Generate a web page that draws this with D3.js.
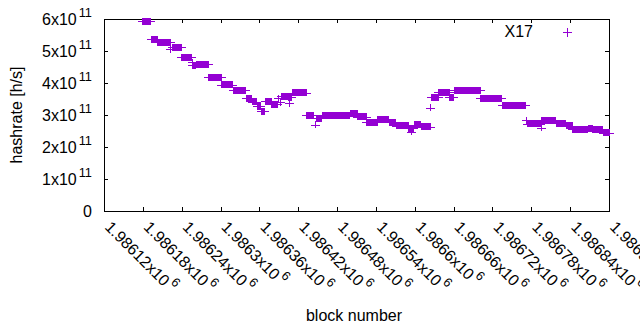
<!DOCTYPE html>
<html>
<head>
<meta charset="utf-8">
<script src="https://cdn.jsdelivr.net/npm/d3@7"></script>
<style>
  body { margin: 0; background: #fff; }
  svg { display: block; font-family: "Liberation Sans", Arial, sans-serif; }
</style>
</head>
<body>
<section></section>
<script>
// Tramos de bloques con el mismo hashrate (primer bloque, ultimo bloque, valor)
var runFirst = [1986179, 1986193, 1986203, 1986223, 1986226, 1986240, 1986256, 1986257, 1986263, 1986282,
    1986302, 1986320, 1986340, 1986349, 1986357, 1986363, 1986369, 1986379, 1986389, 1986392,
    1986394, 1986405, 1986406, 1986411, 1986433, 1986446, 1986448, 1986457, 1986500, 1986512,
    1986526, 1986543, 1986561, 1986572, 1986591, 1986595, 1986599, 1986610, 1986624, 1986626,
    1986637, 1986654, 1986661, 1986702, 1986735, 1986773, 1986774, 1986795, 1986796, 1986819,
    1986834, 1986844, 1986868, 1986875, 1986891]
var runLast = [1986192, 1986202, 1986222, 1986223, 1986239, 1986255, 1986256, 1986262, 1986281, 1986301,
    1986319, 1986339, 1986348, 1986356, 1986362, 1986368, 1986378, 1986388, 1986389, 1986392,
    1986404, 1986410, 1986406, 1986432, 1986444, 1986446, 1986456, 1986499, 1986511, 1986525,
    1986542, 1986560, 1986571, 1986590, 1986598, 1986595, 1986609, 1986625, 1986624, 1986636,
    1986653, 1986660, 1986701, 1986734, 1986771, 1986773, 1986794, 1986795, 1986818, 1986833,
    1986843, 1986867, 1986874, 1986890, 1986900]
var runRate = [5.93e11, 5.37e11, 5.27e11, 5.05e11, 5.11e11, 4.80e11, 4.65e11, 4.55e11, 4.58e11, 4.18e11,
    3.95e11, 3.77e11, 3.52e11, 3.41e11, 3.28e11, 3.12e11, 3.43e11, 3.33e11, 3.52e11, 3.40e11,
    3.58e11, 3.55e11, 3.37e11, 3.69e11, 2.99e11, 2.69e11, 2.90e11, 2.97e11, 3.04e11, 2.94e11,
    2.77e11, 2.87e11, 2.77e11, 2.67e11, 2.58e11, 2.48e11, 2.69e11, 2.63e11, 3.22e11, 3.55e11,
    3.71e11, 3.55e11, 3.77e11, 3.53e11, 3.30e11, 2.84e11, 2.73e11, 2.60e11, 2.84e11, 2.74e11,
    2.67e11, 2.56e11, 2.59e11, 2.54e11, 2.45e11]

var xTicks = [1986120, 1986180, 1986240, 1986300, 1986360, 1986420, 1986480,
    1986540, 1986600, 1986660, 1986720, 1986780, 1986840, 1986900]
var yTicks = [0, 1e11, 2e11, 3e11, 4e11, 5e11, 6e11]
var serieNombre = "X17"

var width = 640
var height = 330
var margin = { top: 19, bottom: 119, left: 104, right: 31 }
var color = "#9400d3"

var lienzosvg = d3.select("section")
    .append("svg")
    .attr("width", width)
    .attr("height", height)

var escalaX = d3.scaleLinear()
    .domain([1986120, 1986900])
    .range([margin.left, width - margin.right])

var escalaY = d3.scaleLinear()
    .domain([0, 6e11])
    .range([height - margin.bottom, margin.top])

var x0 = margin.left, x1 = width - margin.right
var y0 = height - margin.bottom, y1 = margin.top

// Ticks hacia dentro en los cuatro lados
var ticks = lienzosvg.append("g")
    .attr("stroke", "#000")
    .attr("shape-rendering", "crispEdges")

xTicks.forEach(function (t) {
    var x = Math.round(escalaX(t)) + 0.5
    ticks.append("line").attr("x1", x).attr("x2", x).attr("y1", y0).attr("y2", y0 - 4)
    ticks.append("line").attr("x1", x).attr("x2", x).attr("y1", y1).attr("y2", y1 + 4)
})
yTicks.forEach(function (t) {
    var y = Math.round(escalaY(t)) + 0.5
    ticks.append("line").attr("x1", x0).attr("x2", x0 + 4).attr("y1", y).attr("y2", y)
    ticks.append("line").attr("x1", x1).attr("x2", x1 - 4).attr("y1", y).attr("y2", y)
})

// Borde
lienzosvg.append("rect")
    .attr("x", x0 + 0.5).attr("y", y1 + 0.5)
    .attr("width", x1 - x0).attr("height", y0 - y1)
    .attr("fill", "none").attr("stroke", "#000")
    .attr("shape-rendering", "crispEdges")

// Etiquetas eje Y
yTicks.forEach(function (t) {
    var txt = lienzosvg.append("text")
        .attr("x", 92)
        .attr("y", escalaY(t) + 6)
        .attr("text-anchor", "end")
        .attr("font-size", 16)
        .attr("fill", "#000")
    if (t === 0) {
        txt.text("0")
    } else {
        txt.append("tspan").text((t / 1e11) + "x10")
        txt.append("tspan").attr("font-size", 12.8).attr("dx", 2).attr("dy", -8).text("11")
    }
})

// Etiquetas eje X rotadas
xTicks.forEach(function (t) {
    var x = escalaX(t)
    var txt = lienzosvg.append("text")
        .attr("transform", "translate(" + x + ",228) rotate(45)")
        .attr("font-size", 16)
        .attr("fill", "#000")
    txt.append("tspan").text(String(+(t / 1e6).toFixed(5)) + "x10")
    txt.append("tspan").attr("font-size", 12.8).attr("dx", 2).attr("dy", -8).text("6")
})

// Titulos de los ejes
lienzosvg.append("text")
    .attr("x", 354).attr("y", 321)
    .attr("text-anchor", "middle")
    .attr("font-size", 16)
    .text("block number")

lienzosvg.append("text")
    .attr("transform", "translate(22,115) rotate(-90)")
    .attr("text-anchor", "middle")
    .attr("font-size", 16)
    .text("hashrate [h/s]")

// Puntos "+": cada tramo se dibuja como los cruces solapados
var puntos = lienzosvg.append("g")
    .attr("fill", color)
    .attr("stroke", color)
    .attr("shape-rendering", "crispEdges")

runRate.forEach(function (v, i) {
    var xa = escalaX(runFirst[i])
    var xb = escalaX(runLast[i])
    var y = escalaY(v)
    puntos.append("rect")
        .attr("x", xa - 0.5)
        .attr("y", y - 3.5)
        .attr("width", xb - xa + 1)
        .attr("height", 7)
        .attr("stroke", "none")
    puntos.append("line")
        .attr("x1", xa - 4.5).attr("x2", xb + 4.5)
        .attr("y1", Math.round(y) + 0.5).attr("y2", Math.round(y) + 0.5)
        .attr("stroke-width", 1)
})

// Leyenda
lienzosvg.append("text")
    .attr("x", 533).attr("y", 37)
    .attr("text-anchor", "end")
    .attr("font-size", 16)
    .text(serieNombre)

var ley = lienzosvg.append("g")
    .attr("stroke", color)
    .attr("shape-rendering", "crispEdges")
ley.append("line").attr("x1", 563).attr("x2", 572).attr("y1", 32.5).attr("y2", 32.5)
ley.append("line").attr("x1", 567.5).attr("x2", 567.5).attr("y1", 28).attr("y2", 37)
</script>
</body>
</html>
